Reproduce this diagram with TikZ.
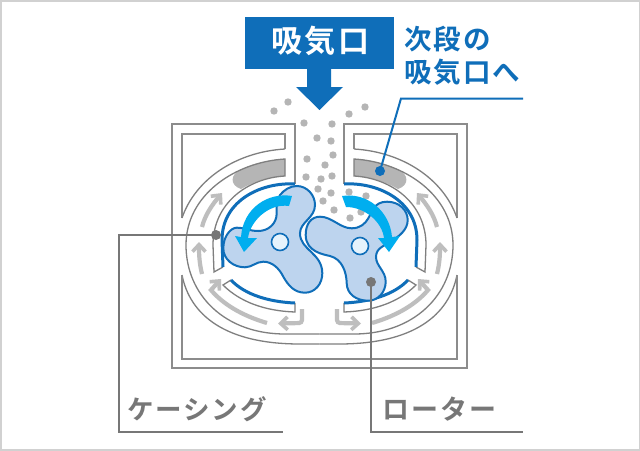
\documentclass[tikz,border=0pt]{standalone}
\usepackage{fontspec}
\usetikzlibrary{arrows.meta}
\newfontfamily\jpA[LetterSpace=9]{Noto Sans CJK JP Bold}
\newfontfamily\jpC[LetterSpace=7]{Noto Sans CJK JP Bold}
\definecolor{mblue}{HTML}{0F6EB9}
\definecolor{cy}{HTML}{00AEEF}
\definecolor{rot}{HTML}{BDD4EE}
\definecolor{hole}{HTML}{E6F3FC}
\definecolor{dotg}{HTML}{B5B5B5}
\definecolor{rectg}{HTML}{8C8C8C}
\definecolor{thing}{HTML}{7F7F7F}
\definecolor{leadg}{HTML}{777777}
\definecolor{flow}{HTML}{BEBEBE}
\tikzset{
  thinline/.style={draw=thing,line width=1.3pt},
  rectline/.style={draw=rectg,line width=2pt},
  bluewall/.style={draw=mblue,line width=3pt},
  rotor/.style={draw=mblue,fill=rot,line width=2pt},
  holec/.style={circle,draw=mblue,fill=hole,line width=1.6pt,inner sep=0pt,minimum size=17pt},
  gasdot/.style={fill=dotg},
  flowarrow/.style={draw=flow,line width=4.2pt,-{Straight Barb[length=7pt,width=13pt,line width=3.6pt]}},
  leadblue/.style={draw=mblue,line width=2pt},
  leadgrey/.style={draw=leadg,line width=2pt},
}
\newcommand{\halfcasing}{%
  \draw[thinline,draw=rectg,line width=1.7pt] (182,218) -- (182,134) -- (285,134) -- (285,149);
  \draw[thinline] (285,149) .. controls (235,152) and (195,180) .. (182,218);
  \path[fill=dotg] (285,159) .. controls (265,160) and (250,165) .. (240,170) .. controls (231,174) and (229,185) .. (241,189) .. controls (255,181) and (269,177) .. (285,176) -- cycle;
  \draw[thinline] (319.5,334) -- (285,334) .. controls (225,334) and (186,295) .. (186,245) .. controls (186,195) and (235,162) .. (285,159) -- (285,176) .. controls (248,178) and (213,203) .. (213,245) -- (214,272) -- (223,267);
  \draw[thinline] (319.5,344) -- (300,344) .. controls (225,344) and (190,315) .. (182,275);
  \draw[thinline,draw=rectg,line width=1.7pt] (182,275) -- (182,359) -- (319.5,359);
  \draw[thinline] (231,280) -- (223,285) .. controls (240,302) and (265,311) .. (295,312) -- (295,303);
  \draw[bluewall] (295,184) .. controls (262,182) and (222,200) .. (222,240) -- (223,267);
  \draw[bluewall] (231,280) .. controls (245,295) and (270,302) .. (295,303);
  \draw[flowarrow] (202,227) .. controls (205,215) and (212,205) .. (222,193);
  \draw[flowarrow] (202,274) .. controls (199,262) and (199,252) .. (199,242);
  \draw[flowarrow] (267,323) .. controls (240,315) and (222,303) .. (211,290) -- (221,279);
  \draw[flowarrow,rounded corners=3pt] (302,309) -- (302,323) -- (278,323.5);
}
\begin{document}
\begin{tikzpicture}[x=1pt,y=-1pt]
\useasboundingbox (0,0) rectangle (640,450);
\fill[white] (0,0) rectangle (640,450);
\draw[draw=black!18,line width=3pt] (0,0) rectangle (640,450);
\foreach \px/\py in {274/111,288/102,304/123,332/124,349/114,365/107,317/138,331/141,333/155,307/159,325/165,332/176,306/177,321/179,318/189,331/193,323/201,334/210,349/192,366/196,361/212,350/218}
  \fill[gasdot] (\px,\py) circle (3.7);
\draw[rectline] (295,184) -- (295,124) -- (172,124) -- (172,368) -- (467,368) -- (467,124) -- (344,124) -- (344,184);
\halfcasing
\begin{scope}[cm={-1,0,0,1,(639pt,0pt)}]
\halfcasing
\end{scope}
\draw[rotor] (296.7,186)
  .. controls (307,186) and (315,195) .. (315,205)
  .. controls (315,218) and (300,222) .. (300,233.3)
  .. controls (300,250) and (322.3,253) .. (322.3,273.3)
  .. controls (322.3,284) and (315,292.7) .. (305,292.7)
  .. controls (294,292.7) and (288,285) .. (283.3,276.7)
  .. controls (279,268) and (272,261.7) .. (263.3,261.7)
  .. controls (256,261.7) and (252,267.3) .. (245,267.3)
  .. controls (233,267.3) and (223.3,259) .. (223.3,248.3)
  .. controls (223.3,236) and (231,227.7) .. (236.7,227.7)
  .. controls (245,227.7) and (249,231) .. (258.3,231)
  .. controls (268,231) and (276.7,224) .. (276.7,213.3)
  .. controls (276.7,206) and (276,201) .. (280,195)
  .. controls (284,190) and (290,186) .. (296.7,186) -- cycle;
\draw[rotor] (320,216.7)
  .. controls (332,216.7) and (340,228.3) .. (351.7,228.3)
  .. controls (360,228.3) and (365,224) .. (368.3,218.3)
  .. controls (372,212) and (374,201.7) .. (387,201.7)
  .. controls (399,201.7) and (407.7,210) .. (407.7,220)
  .. controls (407.7,230) and (399,236) .. (392,241)
  .. controls (384,246) and (376,248) .. (376,257)
  .. controls (376,266) and (385.7,271) .. (385.7,281.7)
  .. controls (385.7,292) and (378,300.7) .. (368.3,300.7)
  .. controls (356,300.7) and (347,294) .. (346.7,283.3)
  .. controls (346.5,272) and (342,259) .. (330,256)
  .. controls (324,254.5) and (305.7,252) .. (305.7,235)
  .. controls (305.7,224) and (311,216.7) .. (320,216.7) -- cycle;
\node[holec] (holeL) at (280,242) {};
\node[holec] (holeR) at (360,246) {};
\fill[cy] (292,196) .. controls (268,192) and (243,208) .. (241,237) -- (235,236) -- (244,252) -- (257,238) -- (248,238) .. controls (250,222) and (268,203) .. (289,206) -- cycle;
\fill[cy] (342,196) .. controls (368,192) and (390,212) .. (392,237) -- (400,236) -- (389,252) -- (378,238) -- (384,238) .. controls (382,222) and (365,207) .. (346,207) -- cycle;
\fill[mblue] (245,17) rectangle (394,69);
\fill[mblue] (307,69) -- (307,87) -- (296,87) -- (319.5,110) -- (343,87) -- (331,87) -- (331,69) -- cycle;
\node[text=white,font=\jpA\fontsize{31}{31}\selectfont,inner sep=0pt] (intake) at (320.5,41) {吸気口};
\node[text=mblue,font=\jpC\fontsize{27.5}{33}\selectfont,inner sep=0pt,anchor=north west,align=left] (next) at (404,26) {次段の\\吸気口へ};
\coordinate (bd) at (380,171);
\coordinate (b1) at (401,98.5);
\coordinate (b2) at (523,98.5);
\draw[leadblue] (b2) -- (b1) -- (bd);
\fill[mblue] (bd) circle (5);
\coordinate (g1) at (216,235);
\coordinate (g2) at (118.5,235);
\coordinate (g3) at (118.5,432);
\coordinate (g4) at (283,432);
\draw[leadgrey] (g1) -- (g2) -- (g3) -- (g4);
\fill[leadg] (g1) circle (5);
\coordinate (r1) at (371,282);
\coordinate (r2) at (371,432);
\coordinate (r3) at (523,432);
\draw[leadgrey] (r1) -- (r2) -- (r3);
\fill[leadg] (r1) circle (5);
\node[text=leadg,font=\jpC\fontsize{26.5}{26}\selectfont,inner sep=0pt] (casing) at (197,409) {ケーシング};
\node[text=leadg,font=\jpC\fontsize{27}{26}\selectfont,inner sep=0pt] (rotor) at (439.5,409) {ローター};
\end{tikzpicture}
\end{document}
